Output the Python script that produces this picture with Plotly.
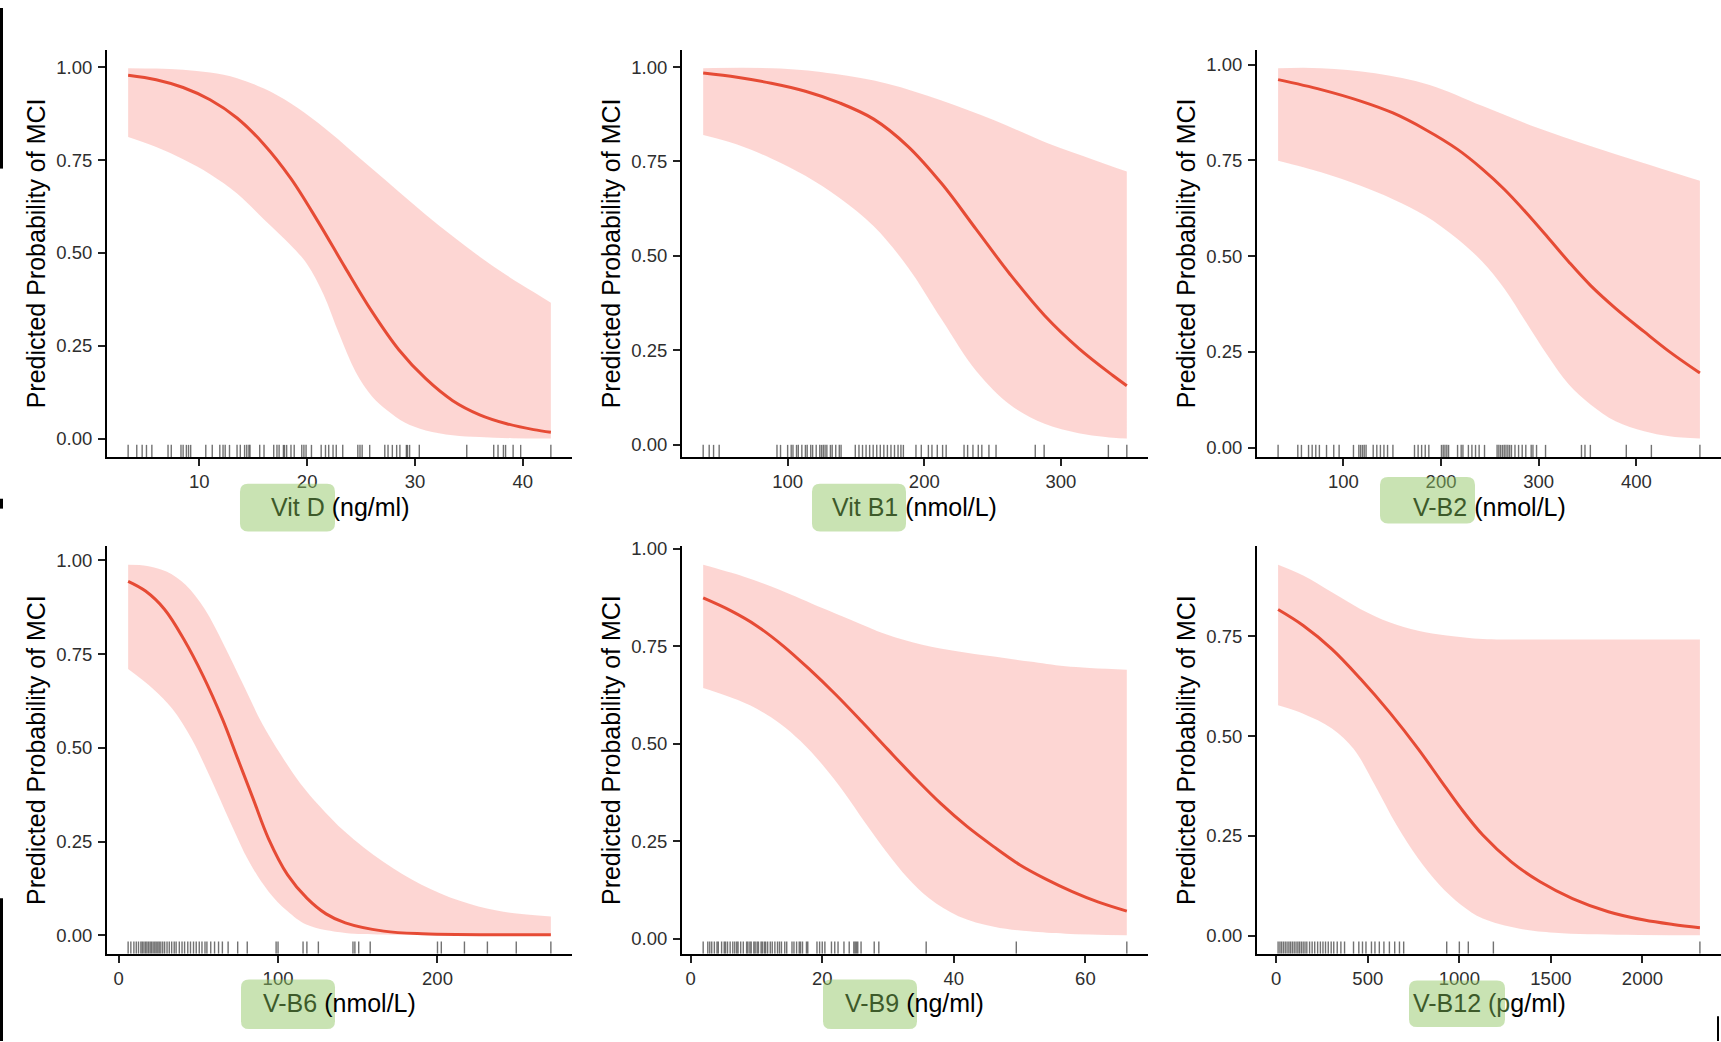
import plotly.graph_objects as go

W, H = 1721, 1042

# ---------------- data ----------------
# Vit D (ng/ml)
vitd_rug = [3.4, 4.2, 4.7, 5.1, 5.6, 7.1, 7.4, 8.3, 8.5, 8.8, 9.0, 9.2, 10.6, 11.2, 11.9,
            12.2, 12.4, 12.8, 13.5, 13.8, 14.2, 14.4, 14.6, 14.7, 15.6, 16.0, 16.9, 17.2,
            17.4, 17.8, 17.9, 18.1, 18.5, 18.8, 19.5, 19.7, 19.9, 20.4, 21.3, 21.7, 22.0,
            22.4, 22.7, 23.3, 24.7, 24.9, 25.1, 25.8, 27.2, 27.5, 27.9, 28.3, 28.6, 29.2,
            29.3, 29.5, 30.4, 34.8, 37.3, 37.7, 38.2, 38.4, 39.1, 39.8, 42.6]
vitd_fit_x = [3.4, 6, 8.5, 11, 13.5, 16, 18.5, 21, 23.5, 26, 28.5, 31, 33.5, 36, 38.5, 41, 42.6]
vitd_fit_y = [0.978, 0.966, 0.945, 0.912, 0.863, 0.792, 0.700, 0.585, 0.462, 0.343, 0.240, 0.162,
              0.103, 0.065, 0.041, 0.025, 0.018]
vitd_hi_x = [3.4, 6, 8.5, 11, 13.5, 16, 18.5, 21, 23.5, 26, 28.5, 31, 33.5, 36, 38.5, 41, 42.6]
vitd_hi_y = [0.997, 0.996, 0.993, 0.985, 0.970, 0.942, 0.902, 0.850, 0.790, 0.727, 0.665, 0.603,
             0.545, 0.490, 0.440, 0.395, 0.366]
vitd_lo_x = [3.4, 6, 8.5, 11, 13.5, 16, 18.5, 20, 21.5, 23, 24.5, 26, 27.5, 29, 31, 33.5, 36, 39, 42.6]
vitd_lo_y = [0.812, 0.785, 0.752, 0.712, 0.660, 0.590, 0.520, 0.470, 0.390, 0.280, 0.180, 0.115,
             0.075, 0.045, 0.023, 0.010, 0.005, 0.002, 0.001]

# Vit B1 (nmol/L)
vitb1_rug = [38.2, 42.6, 45.8, 49.9, 92.2, 94.8, 100.0, 102.6, 103.9, 106.5, 107.8, 110.4, 113.0,
             114.3, 116.9, 118.3, 120.9, 123.5, 124.8, 126.1, 127.4, 128.7, 131.3, 132.6, 135.2,
             137.8, 139.1, 149.5, 152.2, 154.8, 157.4, 160.0, 162.6, 165.2, 167.8, 170.4, 173.0,
             175.6, 178.2, 180.8, 182.9, 184.7, 193.9, 197.8, 203.0, 205.6, 209.5, 213.4, 216.0,
             229.1, 231.7, 235.6, 239.5, 242.1, 247.3, 252.5, 281.2, 287.7, 334.7, 348.2]
vitb1_fit_x = [38.2, 63, 88, 113, 138, 163, 188, 213, 238, 263, 288, 313, 338, 348.2]
vitb1_fit_y = [0.984, 0.973, 0.957, 0.936, 0.905, 0.862, 0.790, 0.690, 0.570, 0.450, 0.342, 0.255,
               0.183, 0.156]
vitb1_hi_x = [38.2, 94.8, 133.9, 173.0, 212.1, 251.2, 290.3, 324.2, 348.2]
vitb1_hi_y = [0.997, 0.996, 0.982, 0.956, 0.912, 0.859, 0.798, 0.754, 0.723]
vitb1_lo_x = [38.2, 63, 88, 113, 138, 163, 188, 213, 238, 263, 288, 313, 338, 348.2]
vitb1_lo_y = [0.820, 0.795, 0.758, 0.712, 0.653, 0.578, 0.470, 0.330, 0.195, 0.105, 0.055, 0.030,
              0.018, 0.016]

# V-B2 (nmol/L)
vb2_rug = [33.1, 53.3, 57.0, 64.3, 68.0, 71.7, 75.4, 82.7, 90.1, 95.6, 110.3, 115.8, 117.6, 119.5,
           121.3, 123.2, 130.5, 134.2, 137.9, 141.5, 145.2, 150.7, 172.8, 176.5, 180.1, 183.8,
           187.5, 200.4, 202.2, 204.0, 205.9, 207.7, 216.9, 220.6, 222.4, 228.0, 231.6, 235.3,
           239.0, 244.5, 257.4, 259.2, 261.0, 262.9, 264.7, 266.5, 268.4, 270.2, 272.1, 275.7,
           279.4, 283.1, 286.8, 292.3, 294.1, 297.8, 307.0, 343.8, 347.4, 352.9, 389.7, 415.4, 465.1]
vb2_fit_x = [33.1, 77.2, 117.6, 150.7, 183.8, 216.9, 242.6, 264.7, 286.8, 308.8, 330.9, 353.0,
             378.7, 408.0, 433.8, 465.1]
vb2_fit_y = [0.961, 0.935, 0.905, 0.874, 0.831, 0.779, 0.727, 0.675, 0.615, 0.551, 0.485, 0.424,
             0.364, 0.303, 0.251, 0.195]
vb2_hi_x = [33.1, 77.2, 132.4, 187.5, 242.6, 297.8, 352.9, 408.1, 465.1]
vb2_hi_y = [0.991, 0.991, 0.978, 0.948, 0.892, 0.836, 0.788, 0.743, 0.697]
vb2_lo_x = vb2_fit_x
vb2_lo_y = [0.749, 0.719, 0.684, 0.649, 0.606, 0.545, 0.485, 0.416, 0.329, 0.242, 0.165, 0.113,
            0.069, 0.043, 0.030, 0.024]

# V-B6 (nmol/L)
vb6_rug = [6.0, 7.7, 9.6, 11.1, 12.5, 14.0, 14.9, 15.9, 16.9, 17.8, 18.8, 19.8, 20.7, 21.7, 22.7,
           23.6, 24.6, 25.5, 26.5, 27.7, 28.9, 30.4, 31.8, 33.3, 34.9, 36.1, 38.1, 39.8, 41.4,
           43.4, 45.1, 47.0, 48.7, 50.6, 52.3, 54.2, 55.4, 57.8, 60.2, 62.7, 65.1, 68.7, 74.7,
           80.7, 98.8, 100.0, 115.7, 118.1, 125.3, 147.0, 148.2, 150.6, 157.8, 200.0, 202.4,
           216.9, 231.3, 249.4, 271.1]
vb6_fit_x = [6.0, 16.9, 28.9, 41.0, 53.0, 65.1, 74.7, 84.3, 94.0, 106.0, 118.1, 130.1, 142.2,
             166.3, 190.4, 271.1]
vb6_fit_y = [0.944, 0.918, 0.869, 0.789, 0.692, 0.577, 0.471, 0.365, 0.258, 0.161, 0.099, 0.057,
             0.033, 0.011, 0.004, 0.001]
vb6_hi_x = [6, 18, 30, 42, 54, 66, 78, 90, 102, 114, 126, 142, 166, 190, 214, 238, 271.1]
vb6_hi_y = [0.988, 0.985, 0.970, 0.935, 0.870, 0.775, 0.670, 0.565, 0.480, 0.405, 0.345, 0.276,
            0.196, 0.135, 0.092, 0.065, 0.050]
vb6_lo_x = [6.0, 21.7, 33.7, 45.8, 57.8, 69.9, 81.9, 94.0, 106.0, 118.1, 142.2, 166.3, 271.1]
vb6_lo_y = [0.710, 0.657, 0.604, 0.524, 0.418, 0.303, 0.196, 0.117, 0.064, 0.028, 0.006, 0.002, 0.0]

# V-B9 (ng/ml)
vb9_rug = [1.9, 2.6, 2.9, 3.2, 3.6, 4.0, 4.2, 4.7, 5.1, 5.3, 5.6, 6.0, 6.4, 6.7, 7.0, 7.2, 7.6,
           8.0, 8.5, 8.7, 9.0, 9.2, 9.6, 9.8, 10.1, 10.3, 10.7, 10.9, 11.2, 11.4, 11.7, 12.1,
           12.4, 12.8, 13.2, 13.5, 13.8, 14.3, 14.6, 15.4, 15.7, 16.1, 16.5, 16.7, 17.0, 17.6,
           17.8, 19.2, 19.6, 20.0, 20.4, 21.4, 21.9, 22.4, 23.3, 24.1, 24.8, 25.0, 25.2, 25.4,
           25.9, 27.9, 28.6, 35.8, 49.5, 66.3]
vb9_fit_x = [1.9, 6, 10, 14, 18, 22, 26, 30, 34, 38, 42, 46, 50, 54, 58, 62, 66.3]
vb9_fit_y = [0.874, 0.842, 0.803, 0.752, 0.692, 0.627, 0.557, 0.485, 0.414, 0.347, 0.288, 0.237,
             0.190, 0.153, 0.121, 0.094, 0.071]
vb9_hi_x = [1.9, 8.0, 13.5, 20.0, 24.3, 29.8, 35.2, 40.7, 46.1, 51.5, 57.0, 66.3]
vb9_hi_y = [0.959, 0.929, 0.895, 0.848, 0.818, 0.780, 0.754, 0.737, 0.724, 0.711, 0.699, 0.690]
vb9_lo_x = [1.9, 5.3, 9.1, 13.5, 16.7, 20.0, 23.3, 26.5, 29.8, 33.0, 36.3, 40.7, 46.1, 51.5,
            57.0, 66.3]
vb9_lo_y = [0.643, 0.624, 0.598, 0.553, 0.507, 0.447, 0.376, 0.298, 0.222, 0.156, 0.103, 0.058,
            0.031, 0.019, 0.013, 0.009]

# V-B12 (pg/ml)
vb12_rug = [10, 20, 29, 39, 49, 59, 69, 78, 88, 98, 108, 118, 127, 137, 147, 157, 167, 182, 196,
            210, 226, 241, 255, 269, 284, 300, 314, 333, 353, 373, 422, 451, 471, 490, 520, 539,
            563, 588, 618, 647, 673, 696, 931, 1000, 1049, 1186, 2314]
vb12_fit_x = [10, 147, 304, 461, 618, 775, 892, 1010, 1128, 1284, 1441, 1618, 1814, 2010, 2167, 2314]
vb12_fit_y = [0.817, 0.777, 0.718, 0.643, 0.560, 0.468, 0.393, 0.318, 0.252, 0.185, 0.135, 0.093,
              0.060, 0.039, 0.028, 0.020]
vb12_hi_x = [10, 147, 304, 461, 618, 775, 931, 1128, 1324, 1716, 2314]
vb12_hi_y = [0.929, 0.902, 0.860, 0.818, 0.785, 0.764, 0.752, 0.743, 0.742, 0.742, 0.742]
vb12_lo_x = [10, 147, 304, 422, 539, 657, 775, 892, 1010, 1128, 1324, 1520, 1912, 2314]
vb12_lo_y = [0.577, 0.556, 0.519, 0.468, 0.377, 0.277, 0.193, 0.127, 0.077, 0.043, 0.018, 0.0075,
             0.002, 0.001]

# titles: (highlighted part, rest)
titles = [("Vit D", " (ng/ml)"), ("Vit B1", " (nmol/L)"), ("V-B2", " (nmol/L)"),
          ("V-B6", " (nmol/L)"), ("V-B9", " (ng/ml)"), ("V-B12 (p", "g/ml)")]
x_dticks = [10, 100, 100, 100, 20, 500]
y_title = "Predicted Probability of MCI"

panels = [
    (vitd_rug, vitd_fit_x, vitd_fit_y, vitd_hi_x, vitd_hi_y, vitd_lo_x, vitd_lo_y),
    (vitb1_rug, vitb1_fit_x, vitb1_fit_y, vitb1_hi_x, vitb1_hi_y, vitb1_lo_x, vitb1_lo_y),
    (vb2_rug, vb2_fit_x, vb2_fit_y, vb2_hi_x, vb2_hi_y, vb2_lo_x, vb2_lo_y),
    (vb6_rug, vb6_fit_x, vb6_fit_y, vb6_hi_x, vb6_hi_y, vb6_lo_x, vb6_lo_y),
    (vb9_rug, vb9_fit_x, vb9_fit_y, vb9_hi_x, vb9_hi_y, vb9_lo_x, vb9_lo_y),
    (vb12_rug, vb12_fit_x, vb12_fit_y, vb12_hi_x, vb12_hi_y, vb12_lo_x, vb12_lo_y),
]

# ---------------- layout geometry (pixels) ----------------
col_px = [(107, 572), (682, 1148), (1257, 1721)]
row_px = [(42, 453), (543, 954)]
# green highlight boxes (x0, y0, x1, y1) in pixels
boxes_px = [(240, 480, 335, 528), (812, 480, 906, 528), (1380, 473, 1475, 520),
            (241, 980, 335, 1030), (823, 980, 917, 1030), (1409, 981, 1505, 1028)]

FONT = "Liberation Sans, Arial, sans-serif"
LINE = "#E64B35"
BAND = "rgba(248,118,109,0.30)"
GREEN_TXT = "#3d5a2a"


def px_x(v):
    return v / W


def px_y(v):
    return 1 - v / H


def rounded_box(x0, y0, x1, y1, r=8):
    pts = [
        ("M", [(x0 + r, y0)]), ("L", [(x1 - r, y0)]), ("Q", [(x1, y0), (x1, y0 + r)]),
        ("L", [(x1, y1 - r)]), ("Q", [(x1, y1), (x1 - r, y1)]), ("L", [(x0 + r, y1)]),
        ("Q", [(x0, y1), (x0, y1 - r)]), ("L", [(x0, y0 + r)]), ("Q", [(x0, y0), (x0 + r, y0)]),
    ]
    s = ""
    for cmd, coords in pts:
        s += cmd + " " + " ".join(f"{px_x(a):.5f},{px_y(b):.5f}" for a, b in coords) + " "
    return s + "Z"


fig = go.Figure()
annotations = []
shapes = []

for i, (rug, fx, fy, hx, hy, lx, ly) in enumerate(panels):
    n = i + 1
    xa, ya = f"x{n}", f"y{n}"
    row, col = divmod(i, 3)

    xmin = min(rug + fx + hx + lx)
    xmax = max(rug + fx + hx + lx)
    xpad = 0.05 * (xmax - xmin)
    ymin = min(ly + fy)
    ymax = max(hy + fy)
    ypad = 0.05 * (ymax - ymin)
    yr = [ymin - ypad, ymax + ypad]

    # confidence band
    fig.add_trace(go.Scatter(x=lx, y=ly, mode="lines", line=dict(width=0, shape="spline"),
                             xaxis=xa, yaxis=ya, hoverinfo="skip", showlegend=False))
    fig.add_trace(go.Scatter(x=hx, y=hy, mode="lines", line=dict(width=0, shape="spline"),
                             fill="tonexty", fillcolor=BAND,
                             xaxis=xa, yaxis=ya, hoverinfo="skip", showlegend=False))
    # fitted curve
    fig.add_trace(go.Scatter(x=fx, y=fy, mode="lines",
                             line=dict(color=LINE, width=3, shape="spline"),
                             xaxis=xa, yaxis=ya, showlegend=False))
    # rug
    rx, ry = [], []
    rug_top = yr[0] + 0.03 * (yr[1] - yr[0])
    for v in rug:
        rx += [v, v, None]
        ry += [yr[0], rug_top, None]
    fig.add_trace(go.Scatter(x=rx, y=ry, mode="lines",
                             line=dict(color="rgba(20,20,20,0.6)", width=1.4),
                             xaxis=xa, yaxis=ya, hoverinfo="skip", showlegend=False))

    c0, c1 = col_px[col]
    r0, r1 = row_px[row]
    axis_common = dict(showline=True, linecolor="black", linewidth=2, ticks="outside",
                       ticklen=7, tickwidth=1.6, tickcolor="#222222", showgrid=False,
                       zeroline=False, tickfont=dict(family=FONT, size=18.5, color="#2e2e2e"))
    fig.update_layout({
        f"xaxis{n}": dict(domain=[px_x(c0), px_x(c1)], anchor=ya,
                          range=[xmin - xpad, xmax + xpad], tick0=0, dtick=x_dticks[i],
                          **axis_common),
        f"yaxis{n}": dict(domain=[px_y(r1), px_y(r0)], anchor=xa, range=yr,
                          tick0=0, dtick=0.25, tickformat=".2f", ticklabelstandoff=2,
                          **axis_common),
    })

    # y axis title
    annotations.append(dict(text=y_title, xref="paper", yref="paper",
                            x=px_x(c0 - 71), y=px_y((r0 + r1) / 2), textangle=-90,
                            showarrow=False, xanchor="center", yanchor="middle",
                            font=dict(family=FONT, size=25, color="black")))
    # x axis title with highlighted part
    hl, rest = titles[i]
    annotations.append(dict(text=f"<span style='color:{GREEN_TXT}'>{hl}</span>{rest}",
                            xref="paper", yref="paper",
                            x=px_x((c0 + c1) / 2), y=px_y(r1 + 50), showarrow=False,
                            xanchor="center", yanchor="middle",
                            font=dict(family=FONT, size=25, color="black")))
    bx0, by0, bx1, by1 = boxes_px[i]
    shapes.append(dict(type="path", xref="paper", yref="paper",
                       path=rounded_box(bx0, by0, bx1, by1), layer="above",
                       fillcolor="rgba(143,196,96,0.48)", line=dict(width=0)))

# black frame remnants at the picture edges
for (x0, y0, x1, y1, w) in [(1.5, 0, 1.5, 162, 3), (1.5, 495, 1.5, 505, 3),
                            (1.5, 898, 1.5, 1042, 3), (1718, 1017, 1718, 1042, 2)]:
    shapes.append(dict(type="line", xref="paper", yref="paper", x0=px_x(x0), x1=px_x(x1),
                       y0=px_y(y0), y1=px_y(y1), line=dict(color="black", width=w)))

fig.update_layout(
    width=W, height=H,
    margin=dict(l=0, r=0, t=0, b=0),
    paper_bgcolor="white", plot_bgcolor="white",
    showlegend=False,
    annotations=annotations,
    shapes=shapes,
)

fig.write_html(
    "out.html",
    config={"displayModeBar": False},
    post_script=("document.body.style.margin='0';"
                 "document.body.style.overflow='hidden';"
                 "document.documentElement.style.overflow='hidden';"),
)
